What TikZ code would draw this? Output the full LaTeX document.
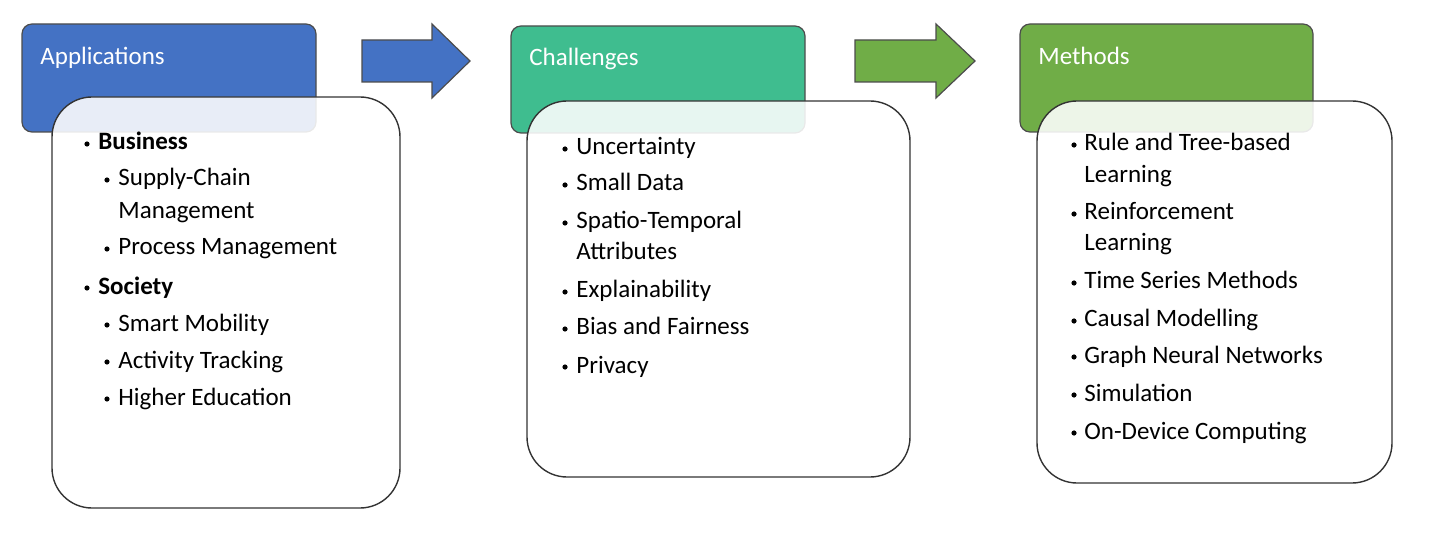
\documentclass[tikz,border=0pt]{standalone}
\usepackage{fontspec}
\setmainfont{Carlito}
\begin{document}
\begin{tikzpicture}[x=0.5pt,y=-0.5pt]
\definecolor{blu}{HTML}{4472C4}
\definecolor{teal1}{HTML}{3FBD8F}
\definecolor{grn}{HTML}{70AD47}
\tikzset{
 head/.style={rounded corners=5pt,draw=black!70,line width=0.6pt},
 body/.style={rounded corners=20pt,draw=black!80,line width=0.7pt,fill=white,fill opacity=0.88},
 htext/.style={anchor=base west,text=white,font=\fontsize{12.5}{14}\selectfont,inner sep=0pt},
 itm/.style={anchor=base west,font=\fontsize{12.5}{14}\selectfont,inner sep=0pt},
 blt/.style={circle,fill=black,inner sep=0pt,minimum size=2.6pt},
 barrow/.style={draw=black!70,line width=0.6pt}
}
\useasboundingbox (0,0) rectangle (1440,534);
% headers
\draw[head,fill=blu] (22,24) rectangle (316,132);
\draw[head,fill=teal1] (511,26) rectangle (805,133);
\draw[head,fill=grn] (1020,24) rectangle (1313,132);
% arrows
\draw[barrow,fill=blu] (362,40) -- (432,40) -- (432,24) -- (470,61) -- (432,98) -- (432,82) -- (362,82) -- cycle;
\draw[barrow,fill=grn] (855,40) -- (936,40) -- (936,24) -- (975,61) -- (936,98) -- (936,82) -- (855,82) -- cycle;
% bodies
\draw[body] (52,97) rectangle (400,508);
\draw[body] (527,101) rectangle (910,477);
\draw[body] (1037,101) rectangle (1392,483);
% header texts
\node[htext] (ha) at (40,65) {Applications};
\node[htext] (hc) at (529,66) {Challenges};
\node[htext] (hm) at (1038,65) {Methods};
% column 1
\foreach \y/\t/\l in {150/{\textbf{Business}}/1,186/{Supply-Chain}/2,219/{\hphantom{}Management}/0,255/{Process Management}/2,294/{\textbf{Society}}/1,331/{Smart Mobility}/2,368/{Activity Tracking}/2,405/{Higher Education}/2}{
  \ifnum\l=1 \node[blt] at (87,\y-6) {}; \node[itm] at (98,\y) {\t};\fi
  \ifnum\l=2 \node[blt] at (107,\y-6) {}; \node[itm] at (118,\y) {\t};\fi
  \ifnum\l=0 \node[itm] at (118,\y) {\t};\fi
}
% column 2
\foreach \y/\t/\l in {155/{Uncertainty}/1,191/{Small Data}/1,229/{Spatio-Temporal}/1,260/{Attributes}/0,298/{Explainability}/1,335/{Bias and Fairness}/1,373/{Privacy}/1}{
  \ifnum\l=1 \node[blt] at (565,\y-6) {};\fi
  \node[itm] at (576,\y) {\t};
}
% column 3
\foreach \y/\t/\l in {151/{Rule and Tree-based}/1,183/{Learning}/0,220/{Reinforcement}/1,251/{Learning}/0,289/{Time Series Methods}/1,327/{Causal Modelling}/1,363/{Graph Neural Networks}/1,401/{Simulation}/1,439/{On-Device Computing}/1}{
  \ifnum\l=1 \node[blt] at (1074,\y-6) {};\fi
  \node[itm] at (1084,\y) {\t};
}
\end{tikzpicture}
\end{document}
